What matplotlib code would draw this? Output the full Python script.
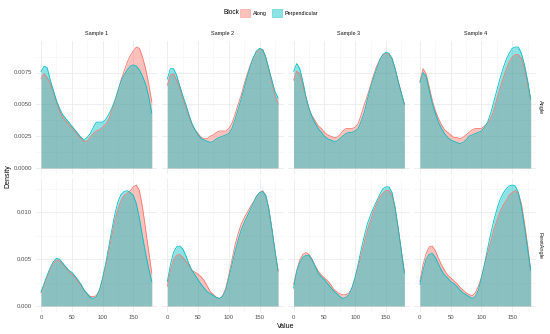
import matplotlib
matplotlib.use('Agg')
import matplotlib.pyplot as plt
from matplotlib.patches import Patch
import numpy as np

plt.rcParams['font.family'] = ['Liberation Sans', 'DejaVu Sans']

value_grid = np.arange(0, 181, 5)

samples = ['Sample 1', 'Sample 2', 'Sample 3', 'Sample 4']
measures = ['Angle', 'FeretAngle']
blocks = ['Along', 'Perpendicular']

# Angle, Along
angle_along_s1 = [0.0070, 0.0074, 0.0071, 0.0066, 0.0060, 0.0052, 0.0045, 0.0040, 0.0037, 0.0034, 0.0032, 0.0029, 0.0026,
                  0.0023, 0.0021, 0.0021, 0.0024, 0.0027, 0.0029, 0.0030, 0.0032, 0.0034, 0.0038, 0.0045, 0.0052, 0.0060,
                  0.0069, 0.0076, 0.0083, 0.0088, 0.0092, 0.0095, 0.0094, 0.0087, 0.0078, 0.0066, 0.0052]
angle_along_s2 = [0.0065, 0.0073, 0.0074, 0.0069, 0.0063, 0.0055, 0.0048, 0.0041, 0.0034, 0.0030, 0.0027, 0.0024, 0.0023,
                  0.0023, 0.0025, 0.0026, 0.0028, 0.0029, 0.0029, 0.0029, 0.0031, 0.0035, 0.0042, 0.0050, 0.0057, 0.0066,
                  0.0074, 0.0081, 0.0087, 0.0091, 0.0093, 0.0093, 0.0087, 0.0077, 0.0067, 0.0057, 0.0051]
angle_along_s3 = [0.0069, 0.0076, 0.0074, 0.0065, 0.0055, 0.0046, 0.0041, 0.0037, 0.0033, 0.0031, 0.0028, 0.0026, 0.0025,
                  0.0024, 0.0024, 0.0026, 0.0029, 0.0031, 0.0031, 0.0031, 0.0032, 0.0035, 0.0042, 0.0050, 0.0057, 0.0065,
                  0.0073, 0.0080, 0.0085, 0.0089, 0.0090, 0.0089, 0.0086, 0.0078, 0.0068, 0.0059, 0.0050]
angle_along_s4 = [0.0068, 0.0078, 0.0074, 0.0064, 0.0053, 0.0045, 0.0039, 0.0034, 0.0030, 0.0028, 0.0026, 0.0024, 0.0024,
                  0.0023, 0.0024, 0.0026, 0.0028, 0.0030, 0.0031, 0.0031, 0.0031, 0.0033, 0.0035, 0.0039, 0.0045, 0.0054,
                  0.0062, 0.0070, 0.0077, 0.0083, 0.0087, 0.0089, 0.0089, 0.0086, 0.0078, 0.0066, 0.0054]

# Angle, Perpendicular
angle_perp_s1 = [0.00756, 0.0080, 0.00787, 0.0069, 0.0061, 0.0053, 0.0047, 0.0042, 0.0039, 0.0036, 0.0033, 0.0030, 0.0027,
                 0.0024, 0.0022, 0.0024, 0.0027, 0.0032, 0.0036, 0.0036, 0.0036, 0.0038, 0.0042, 0.0047, 0.0053, 0.0061,
                 0.0068, 0.0073, 0.0077, 0.0080, 0.0081, 0.0080, 0.0077, 0.0072, 0.0066, 0.0056, 0.0043]
angle_perp_s2 = [0.0070, 0.0078, 0.0078, 0.0073, 0.0065, 0.0057, 0.0050, 0.0042, 0.0035, 0.0030, 0.0026, 0.0023, 0.0022,
                 0.0021, 0.0020, 0.0021, 0.0023, 0.0024, 0.0025, 0.0026, 0.0027, 0.0031, 0.0038, 0.0046, 0.0054, 0.0063,
                 0.0072, 0.0080, 0.0087, 0.0092, 0.0094, 0.0093, 0.0087, 0.0078, 0.0069, 0.0060, 0.0055]
angle_perp_s3 = [0.0076, 0.0082, 0.0078, 0.0068, 0.0056, 0.0047, 0.0040, 0.0035, 0.0031, 0.0028, 0.0025, 0.0023, 0.0022,
                 0.0021, 0.0021, 0.0023, 0.0025, 0.0027, 0.0028, 0.0028, 0.0029, 0.0031, 0.0037, 0.0044, 0.0054, 0.0063,
                 0.0071, 0.0078, 0.0085, 0.0089, 0.0091, 0.0090, 0.0086, 0.0078, 0.0068, 0.0059, 0.0050]
angle_perp_s4 = [0.0067, 0.0075, 0.0072, 0.0061, 0.0051, 0.0043, 0.0036, 0.0031, 0.0027, 0.0024, 0.0022, 0.0021, 0.0020,
                 0.0019, 0.0020, 0.0022, 0.0025, 0.0026, 0.0027, 0.0028, 0.0029, 0.0032, 0.0036, 0.0043, 0.0052, 0.0061,
                 0.0070, 0.0078, 0.0085, 0.0090, 0.0094, 0.0095, 0.0095, 0.0090, 0.0081, 0.0069, 0.0054]

# FeretAngle, Along
feret_along_s1 = [0.0014, 0.0022, 0.0031, 0.0039, 0.0045, 0.0049, 0.0048, 0.0045, 0.0041, 0.0037, 0.0034, 0.0031, 0.0026,
                  0.0022, 0.0017, 0.0013, 0.0010, 0.0010, 0.0011, 0.0017, 0.0028, 0.0042, 0.0058, 0.0075, 0.0091, 0.0103,
                  0.0112, 0.0118, 0.0120, 0.0123, 0.0127, 0.0129, 0.0123, 0.0105, 0.0082, 0.0058, 0.0035]
feret_along_s2 = [0.0021, 0.0038, 0.0049, 0.0054, 0.0055, 0.0052, 0.0048, 0.0043, 0.0038, 0.0036, 0.0034, 0.0031, 0.0027,
                  0.0021, 0.0015, 0.0012, 0.0009, 0.0008, 0.0011, 0.0019, 0.0033, 0.0049, 0.0065, 0.0077, 0.0087, 0.0094,
                  0.0100, 0.0106, 0.0111, 0.0117, 0.0121, 0.0123, 0.0118, 0.0104, 0.0082, 0.0058, 0.0037]
feret_along_s3 = [0.0023, 0.0038, 0.0049, 0.0055, 0.0057, 0.0055, 0.0050, 0.0043, 0.0037, 0.0033, 0.0030, 0.0027, 0.0023,
                  0.0018, 0.0015, 0.0013, 0.0012, 0.0012, 0.0014, 0.0019, 0.0030, 0.0042, 0.0055, 0.0068, 0.0081, 0.0091,
                  0.0101, 0.0109, 0.0116, 0.0120, 0.0123, 0.0123, 0.0118, 0.0103, 0.0082, 0.0059, 0.0037]
feret_along_s4 = [0.0026, 0.0044, 0.0056, 0.0063, 0.0064, 0.0059, 0.0051, 0.0044, 0.0038, 0.0033, 0.0030, 0.0027, 0.0024,
                  0.0020, 0.0017, 0.0014, 0.0012, 0.0011, 0.0014, 0.0021, 0.0031, 0.0044, 0.0056, 0.0068, 0.0081, 0.0091,
                  0.0100, 0.0107, 0.0112, 0.0118, 0.0121, 0.0123, 0.0120, 0.0109, 0.0088, 0.0065, 0.0038]

# FeretAngle, Perpendicular
feret_perp_s1 = [0.0015, 0.0024, 0.0033, 0.0041, 0.0047, 0.0051, 0.0050, 0.0046, 0.0042, 0.0038, 0.0036, 0.0032, 0.0028,
                 0.0023, 0.0017, 0.0013, 0.0009, 0.0008, 0.0010, 0.0017, 0.0030, 0.0045, 0.0063, 0.0081, 0.0098, 0.0111,
                 0.0119, 0.0122, 0.0123, 0.0121, 0.0118, 0.0109, 0.0093, 0.0074, 0.0056, 0.0040, 0.0026]
feret_perp_s2 = [0.0026, 0.0044, 0.0057, 0.0063, 0.0064, 0.0061, 0.0054, 0.0045, 0.0038, 0.0033, 0.0028, 0.0023, 0.0019,
                 0.0015, 0.0013, 0.0011, 0.0009, 0.0008, 0.0010, 0.0017, 0.0030, 0.0044, 0.0058, 0.0070, 0.0081, 0.0089,
                 0.0096, 0.0103, 0.0110, 0.0117, 0.0121, 0.0122, 0.0118, 0.0103, 0.0082, 0.0059, 0.0038]
feret_perp_s3 = [0.0019, 0.0037, 0.0046, 0.0052, 0.0054, 0.0054, 0.0049, 0.0042, 0.0035, 0.0031, 0.0028, 0.0024, 0.0020,
                 0.0016, 0.0013, 0.0010, 0.0008, 0.0009, 0.0012, 0.0020, 0.0031, 0.0045, 0.0061, 0.0075, 0.0088, 0.0097,
                 0.0105, 0.0112, 0.0119, 0.0125, 0.0127, 0.0127, 0.0121, 0.0105, 0.0083, 0.0059, 0.0035]
feret_perp_s4 = [0.0023, 0.0038, 0.0050, 0.0055, 0.0056, 0.0052, 0.0045, 0.0038, 0.0033, 0.0030, 0.0026, 0.0024, 0.0021,
                 0.0017, 0.0014, 0.0012, 0.0010, 0.0008, 0.0010, 0.0017, 0.0030, 0.0045, 0.0061, 0.0077, 0.0091, 0.0103,
                 0.0113, 0.0120, 0.0125, 0.0128, 0.0129, 0.0128, 0.0121, 0.0105, 0.0084, 0.0061, 0.0038]

curves = {
    'Angle': {
        'Along': [angle_along_s1, angle_along_s2, angle_along_s3, angle_along_s4],
        'Perpendicular': [angle_perp_s1, angle_perp_s2, angle_perp_s3, angle_perp_s4],
    },
    'FeretAngle': {
        'Along': [feret_along_s1, feret_along_s2, feret_along_s3, feret_along_s4],
        'Perpendicular': [feret_perp_s1, feret_perp_s2, feret_perp_s3, feret_perp_s4],
    },
}

x_ticks = [0, 50, 100, 150]
y_ticks = {'Angle': [0, 0.0025, 0.0050, 0.0075], 'FeretAngle': [0, 0.005, 0.010]}
y_fmt = {'Angle': '{:.4f}', 'FeretAngle': '{:.3f}'}

colors = {'Along': '#F8766D', 'Perpendicular': '#00BFC4'}
fill_alpha = 0.45

W, H = 550, 334
fig = plt.figure(figsize=(W / 100, H / 100), dpi=100)

col_left = [35.5, 161.8, 288.1, 414.4]
panel_w = 121.8
row_top = [41.0, 179.0]
panel_h = 133.0

for r, m in enumerate(measures):
    ymax = max(max(v) for b in blocks for v in curves[m][b])
    pad = ymax * 0.05
    for c, s in enumerate(samples):
        ax = fig.add_axes([col_left[c] / W, 1 - (row_top[r] + panel_h) / H, panel_w / W, panel_h / H])
        for b in blocks:
            y = curves[m][b][c]
            ax.fill_between(value_grid, 0, y, color=colors[b], alpha=fill_alpha, lw=0)
            ax.plot(value_grid, y, color=colors[b], lw=0.6)
        ax.set_xlim(-9, 189)
        ax.set_ylim(-pad, ymax + pad)
        ax.set_xticks(x_ticks)
        ax.set_xticks([25, 75, 125, 175], minor=True)
        yt = y_ticks[m]
        ax.set_yticks(yt)
        ax.set_yticks([(a + b) / 2 for a, b in zip(yt[:-1], yt[1:])] + [yt[-1] + (yt[1] - yt[0]) / 2], minor=True)
        ax.grid(which='major', color='#EBEBEB', lw=0.6)
        ax.grid(which='minor', color='#F4F4F4', lw=0.4)
        ax.set_axisbelow(True)
        for sp in ax.spines.values():
            sp.set_visible(False)
        ax.tick_params(which='both', length=0, labelsize=4.3, labelcolor='#4D4D4D', pad=2.5)
        if c == 0:
            ax.set_yticklabels([y_fmt[m].format(v) for v in yt])
        else:
            ax.set_yticklabels([])
        if r == 1:
            ax.set_xticklabels([str(v) for v in x_ticks])
        else:
            ax.set_xticklabels([])
        if r == 0:
            ax.set_title(s, fontsize=4.0, color='#1A1A1A', pad=4)
        if c == 3:
            ax.text(1.035, 0.5, m, transform=ax.transAxes, rotation=270, fontsize=4.0,
                    color='#1A1A1A', ha='center', va='center')

fig.text(286 / W, 1 - 326 / H, 'Value', fontsize=5, ha='center', va='center')
fig.text(8 / W, 1 - 176 / H, 'Density', fontsize=5, rotation=90, ha='center', va='center')

# legend
fig.text(231 / W, 1 - 13 / H, 'Block', fontsize=4.7, ha='center', va='center')
handles = [Patch(facecolor=colors[b], alpha=fill_alpha, edgecolor=colors[b], lw=0.6) for b in blocks]
fig.legend(handles, blocks, ncol=2, loc='center left', bbox_to_anchor=(240 / W, 1 - 13 / H),
           frameon=False, fontsize=3.9, handlelength=1.8, handleheight=1.8, handletextpad=0.6,
           columnspacing=0.9, borderaxespad=0, borderpad=0)

fig.savefig('out.png', dpi=100)
